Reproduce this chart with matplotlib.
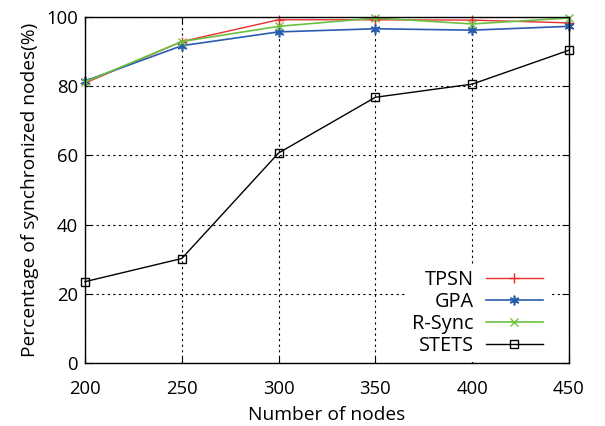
import matplotlib
matplotlib.use('Agg')
import matplotlib.pyplot as plt

plt.rcParams['font.family'] = ['Open Sans', 'DejaVu Sans']

# data
nodes = [200, 250, 300, 350, 400, 450]
tpsn = [80.9, 92.9, 99.2, 99.2, 99.1, 98.3]
gpa = [81.5, 91.7, 95.7, 96.6, 96.2, 97.3]
rsync = [81.2, 92.9, 97.3, 99.7, 98.0, 99.7]
stets = [23.5, 30.2, 60.7, 76.8, 80.6, 90.4]

fig = plt.figure(figsize=(6.05, 4.26), dpi=100)
ax = fig.add_axes([85 / 605, 1 - 363 / 426, (569 - 85) / 605, (363 - 17) / 426])

ax.plot(nodes, tpsn, color='#e8302f', lw=1, marker='+', ms=7, mew=1, label='TPSN', clip_on=False)
ax.plot(nodes, gpa, color='#2a5cae', lw=1.2, marker=(6, 2, 0), ms=7, mew=1.2, label='GPA', clip_on=False)
ax.plot(nodes, rsync, color='#6cc040', lw=1.2, marker='x', ms=6, mew=1, label='R-Sync', clip_on=False)
ax.plot(nodes, stets, color='black', lw=1, marker='s', ms=6, mew=1, mfc='none', label='STETS', clip_on=False)

ax.set_xlim(200, 450)
ax.set_ylim(0, 100)
ax.set_xticks(nodes)
ax.set_yticks([0, 20, 40, 60, 80, 100])
ax.grid(True, color='black', ls=(0, (2, 3)), lw=0.8)
ax.tick_params(direction='in', top=True, right=True, labelsize=13.3, length=5, pad=5)
ax.tick_params(axis='x', pad=12)
for s in ax.spines.values():
    s.set_linewidth(1)

ax.set_xlabel('Number of nodes', fontsize=13.8, labelpad=6)
ax.set_ylabel('Percentage of synchronized nodes(%)', fontsize=13.8, labelpad=5)

leg = ax.legend(loc='lower right', markerfirst=False, frameon=True, fancybox=False,
                fontsize=14.3, handlelength=2.9, handletextpad=0.6, labelspacing=0.1,
                borderpad=0.3, borderaxespad=0, bbox_to_anchor=(0.959, 0.003))
leg.get_frame().set_edgecolor('none')
leg.get_frame().set_facecolor('white')
leg.get_frame().set_alpha(1)

fig.savefig('out.png', dpi=100)
